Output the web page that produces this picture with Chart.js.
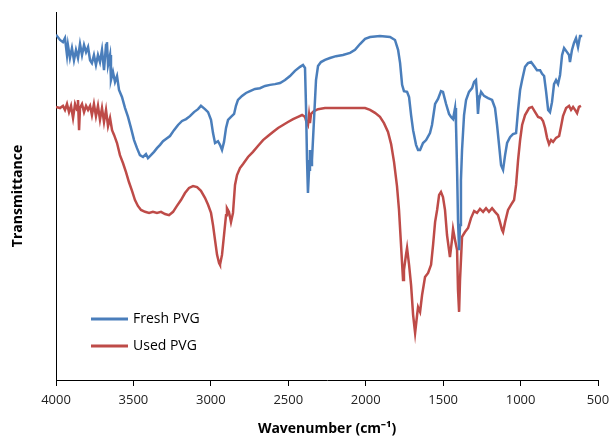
<!DOCTYPE html>
<html>
<head>
<meta charset="utf-8">
<title>FTIR PVG</title>
<script src="https://cdn.jsdelivr.net/npm/chart.js@4.4.0/dist/chart.umd.min.js"></script>
<style>
  body { margin: 0; background: #fff; }
  #wrap { width: 610px; height: 441px; }
</style>
</head>
<body>
<div id="wrap"><canvas id="ftir" width="610" height="441"></canvas></div>
<script>
// wavenumber (cm-1) and transmittance (arbitrary units)
var freshWn = [4000,3974,3955,3942,3929,3923,3910,3897,3884,3871,3858,3845,3832,3819,3806,3793,3780,3768,3755,3742,3729,3716,3703,3690,3677,3671,3664,3651,3645,3632,3619,3606,3593,3574,3554,3535,3516,3496,3477,3458,3438,3419,3406,3387,3367,3348,3328,3309,3290,3264,3238,3212,3186,3160,3135,3109,3083,3064,3038,3018,2999,2986,2973,2954,2941,2928,2915,2902,2889,2870,2850,2838,2825,2799,2773,2747,2715,2683,2650,2618,2586,2553,2521,2489,2457,2424,2405,2392,2385,2379,2373,2366,2360,2353,2347,2334,2321,2308,2289,2263,2231,2192,2147,2101,2069,2037,2004,1972,1908,1843,1811,1791,1778,1765,1753,1733,1720,1707,1694,1675,1662,1649,1630,1610,1585,1572,1552,1533,1514,1501,1481,1462,1449,1436,1423,1417,1410,1404,1397,1391,1385,1378,1365,1352,1333,1313,1300,1288,1281,1275,1268,1255,1236,1210,1184,1165,1152,1139,1126,1113,1100,1087,1068,1049,1029,1016,1003,990,971,952,932,913,894,874,861,848,835,822,810,797,784,771,758,745,732,719,700,687,681,668,655,642,629,616,610];
var freshT = [93.8,92.4,91.8,92.9,88.3,91.0,87.5,90.2,86.9,89.7,87.5,91.3,88.3,91.0,89.1,90.5,86.9,86.1,88.3,85.6,88.3,86.4,89.7,84.2,91.0,91.8,85.6,88.3,81.5,83.7,81.0,82.6,78.8,76.9,73.9,71.5,68.5,65.2,63.0,61.1,60.6,61.4,60.3,61.1,62.0,63.0,63.9,64.9,65.5,66.3,67.9,69.3,70.4,70.9,71.7,72.8,73.6,74.5,73.6,72.8,70.7,67.1,64.4,64.9,63.9,62.5,64.7,68.5,70.7,71.5,72.3,74.5,76.1,77.2,78.0,78.5,79.1,79.3,79.9,80.2,80.4,80.7,81.5,82.6,84.0,85.1,85.6,84.8,73.4,59.8,50.8,57.1,62.5,58.4,59.8,70.7,81.5,85.3,86.4,87.0,87.5,88.0,88.3,88.9,89.7,91.3,92.7,93.2,93.5,93.2,92.4,89.7,86.1,80.2,78.5,78.3,76.9,72.0,67.9,63.9,62.5,62.5,64.4,65.2,67.1,69.3,75.0,76.4,78.5,78.3,75.0,72.3,71.5,70.9,73.9,69.6,57.1,43.5,35.3,42.1,54.3,62.5,72.0,76.1,78.3,79.3,81.0,81.5,77.4,72.3,76.1,78.3,77.2,76.6,76.1,73.9,69.3,63.9,58.4,57.1,61.1,64.4,66.0,66.8,67.1,73.4,78.8,81.5,85.1,86.1,86.4,85.3,84.2,84.2,83.2,82.6,78.3,73.4,72.8,75.5,80.4,81.5,80.4,82.9,88.3,90.2,89.1,88.3,86.4,89.7,91.6,92.9,90.5,93.5,93.8];

var usedWn = [4000,3974,3955,3942,3929,3916,3903,3890,3877,3864,3858,3851,3845,3832,3819,3806,3793,3780,3768,3755,3742,3729,3716,3703,3690,3677,3664,3651,3638,3625,3606,3587,3567,3548,3529,3509,3490,3471,3451,3425,3399,3374,3348,3322,3296,3270,3244,3219,3193,3167,3141,3115,3089,3064,3038,3018,2999,2986,2973,2960,2947,2941,2928,2915,2902,2896,2883,2870,2857,2844,2831,2812,2792,2760,2728,2696,2663,2631,2599,2566,2534,2502,2469,2437,2411,2392,2385,2373,2366,2360,2353,2334,2308,2263,2166,2069,2004,1972,1940,1908,1882,1856,1836,1817,1798,1785,1772,1759,1753,1740,1733,1720,1707,1694,1681,1668,1662,1649,1636,1617,1597,1578,1565,1552,1539,1526,1514,1501,1488,1475,1462,1456,1443,1436,1423,1410,1404,1397,1391,1378,1359,1339,1320,1300,1281,1262,1242,1223,1204,1184,1165,1146,1133,1120,1113,1100,1081,1062,1042,1029,1016,1003,990,971,945,926,906,887,868,855,842,829,816,803,790,771,751,739,726,706,687,674,661,648,635,623,610];
var usedT = [74.2,73.9,74.5,73.4,75.0,72.8,74.5,71.2,75.0,73.4,76.1,67.9,73.9,75.0,72.8,74.5,73.4,74.5,72.0,75.0,71.7,74.5,70.7,73.9,70.1,73.4,69.0,71.2,67.9,66.6,64.4,61.1,58.9,56.5,53.8,51.4,48.9,47.3,46.2,45.7,45.4,45.7,45.4,45.7,45.1,44.8,45.7,47.3,48.9,50.8,52.2,52.7,52.4,51.4,49.5,47.6,45.4,42.1,38.0,34.0,31.8,31.3,34.0,39.4,44.8,46.7,45.7,42.9,45.4,53.0,55.7,57.6,58.7,60.6,62.0,63.6,65.2,66.3,67.4,68.5,69.3,70.1,70.9,71.5,72.0,71.5,70.4,69.3,72.0,69.8,72.3,73.1,73.6,73.9,73.9,73.9,73.9,73.4,72.6,71.5,69.8,67.4,64.1,59.2,52.7,46.2,36.7,27.2,29.9,34.0,35.9,31.3,25.8,17.7,12.8,17.7,19.8,18.5,23.1,28.0,29.1,31.3,36.7,42.9,46.2,50.3,51.1,49.7,46.2,39.4,35.3,33.4,38.0,41.0,38.0,35.3,24.5,18.5,27.2,38.9,40.2,41.3,44.0,45.9,45.4,46.5,45.7,46.7,45.7,46.7,45.7,44.8,42.9,40.8,40.2,42.9,46.2,47.6,48.9,53.0,59.8,65.2,69.3,72.0,73.9,74.2,72.8,71.5,71.2,70.4,68.5,65.8,64.1,65.2,64.7,65.8,66.3,68.8,71.7,73.9,74.5,73.4,74.2,73.4,72.5,74.2,74.5];

var seriesNames = ["Fresh PVG", "Used PVG"];
var xTicks = [4000, 3500, 3000, 2500, 2000, 1500, 1000, 500];

function toPoints(xs, ys) {
  var pts = [];
  for (var i = 0; i < xs.length; i++) pts.push({x: xs[i], y: ys[i]});
  return pts;
}

var blue = "#4a7ebb";
var red = "#be4b48";

// legend drawn inside the plot, lower left
var insideLegend = {
  id: "insideLegend",
  afterDraw: function(chart) {
    var ctx = chart.ctx;
    ctx.save();
    ctx.font = "14px 'Open Sans', sans-serif";
    ctx.textBaseline = "middle";
    chart.data.datasets.forEach(function(ds, i) {
      var y = 319 + i * 27;
      ctx.strokeStyle = ds.borderColor;
      ctx.lineWidth = 3;
      ctx.beginPath();
      ctx.moveTo(91, y);
      ctx.lineTo(128, y);
      ctx.stroke();
      ctx.fillStyle = "#000";
      ctx.fillText(ds.label, 133, y);
    });
    ctx.restore();
  }
};

new Chart(document.getElementById("ftir"), {
  type: "line",
  data: {
    datasets: [
      {label: seriesNames[0], data: toPoints(freshWn, freshT), borderColor: blue, borderWidth: 2.5, pointRadius: 0, tension: 0},
      {label: seriesNames[1], data: toPoints(usedWn, usedT), borderColor: red, borderWidth: 2.5, pointRadius: 0, tension: 0}
    ]
  },
  options: {
    responsive: false,
    animation: false,
    layout: {padding: {top: 12, right: 12, left: 0, bottom: 0}},
    plugins: {legend: {display: false}, tooltip: {enabled: false}},
    scales: {
      x: {
        type: "linear",
        reverse: true,
        min: 500,
        max: 4000,
        afterBuildTicks: function(scale) {
          scale.ticks = xTicks.map(function(v) { return {value: v}; });
        },
        afterFit: function(scale) {
          scale.height = 61;
          scale.paddingRight = 0;
          scale.paddingLeft = 0;
        },
        grid: {display: true, drawOnChartArea: false, drawTicks: true, tickLength: 6, color: "#000"},
        border: {display: true, color: "#000", width: 1},
        ticks: {
          color: "#222",
          font: {family: "'Open Sans', sans-serif", size: 13},
          padding: 6,
          maxRotation: 0,
          callback: function(v) { return String(v); }
        },
        title: {display: true, text: "Wavenumber (cm\u207b\u00b9)", color: "#000", font: {family: "'Open Sans', sans-serif", size: 14, weight: "bold"}, padding: {top: 2}}
      },
      y: {
        min: 0,
        max: 100,
        afterFit: function(scale) { scale.width = 56; },
        grid: {display: false},
        border: {display: true, color: "#000", width: 1},
        ticks: {display: false},
        title: {display: true, text: "Transmittance", color: "#000", font: {family: "'Open Sans', sans-serif", size: 14, weight: "bold"}, padding: {top: 10, bottom: 0}}
      }
    }
  },
  plugins: [insideLegend]
});
</script>
</body>
</html>
